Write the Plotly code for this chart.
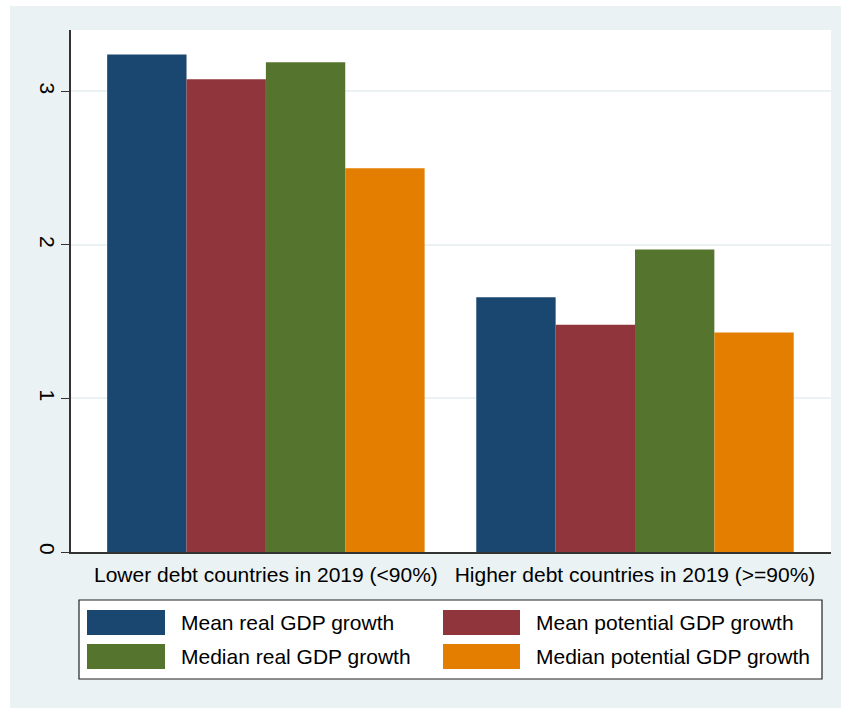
import plotly.graph_objects as go

categories = ["Lower debt countries in 2019 (<90%)", "Higher debt countries in 2019 (>=90%)"]
series_names = ["Mean real GDP growth", "Mean potential GDP growth",
                "Median real GDP growth", "Median potential GDP growth"]
mean_real = [3.24, 1.66]
mean_potential = [3.08, 1.48]
median_real = [3.19, 1.97]
median_potential = [2.50, 1.43]
y_ticks = [0, 1, 2, 3]

colors = ["#1A476F", "#90353B", "#55752F", "#E37E00"]
series_values = [mean_real, mean_potential, median_real, median_potential]

W, H = 841, 708
L, R, T, B = 71, 10, 30, 156
PW, PH = W - L - R, H - T - B
FONT = "Liberation Sans, Arial, sans-serif"

def px(x):
    return (x - L) / PW

def py(y):
    return (H - B - y) / PH

fig = go.Figure()
for name, vals, col in zip(series_names, series_values, colors):
    fig.add_trace(go.Bar(x=[0, 1], y=vals, name=name, marker=dict(color=col, line=dict(width=0)),
                         showlegend=False))

shapes = []
annotations = []
# white outer strips (left and top)
shapes.append(dict(type="rect", xref="paper", yref="paper", x0=px(-5), x1=px(10), y0=py(720), y1=py(-5),
                   fillcolor="white", line=dict(width=0), layer="above"))
shapes.append(dict(type="rect", xref="paper", yref="paper", x0=px(-5), x1=px(850), y0=py(6), y1=py(-5),
                   fillcolor="white", line=dict(width=0), layer="above"))
# legend box
shapes.append(dict(type="rect", xref="paper", yref="paper", x0=px(79), x1=px(822), y0=py(679), y1=py(600),
                   fillcolor="white", line=dict(color="#222222", width=1.2), layer="above"))
sw = [(87, 165, 610, 635, 179), (443, 520, 610, 635, 534), (87, 165, 644, 669, 179), (443, 520, 644, 669, 534)]
for (x0, x1, y0, y1, tx), name, col in zip(sw, series_names, colors):
    shapes.append(dict(type="rect", xref="paper", yref="paper", x0=px(x0), x1=px(x1), y0=py(y1), y1=py(y0),
                       fillcolor=col, line=dict(width=0), layer="above"))
    annotations.append(dict(text=name, xref="paper", yref="paper", x=px(tx), y=py((y0 + y1) / 2),
                            xanchor="left", yanchor="middle", showarrow=False,
                            font=dict(family=FONT, size=21, color="black")))

fig.update_layout(
    width=W, height=H,
    margin=dict(l=L, r=R, t=T, b=B),
    paper_bgcolor="#EAF2F3",
    plot_bgcolor="white",
    barmode="group",
    bargap=0.14,
    bargroupgap=0,
    font=dict(family=FONT, size=20, color="black"),
    shapes=shapes,
    annotations=annotations,
    xaxis=dict(range=[-0.528, 1.531], tickmode="array", tickvals=[0, 1], ticktext=categories,
               tickfont=dict(size=21), showgrid=False, showline=True, linecolor="#333333", linewidth=1.5,
               ticks="", zeroline=False, ticklabelstandoff=3),
    yaxis=dict(range=[0, 3.40], tickmode="array", tickvals=y_ticks, ticktext=[str(v) for v in y_ticks],
               tickangle=90, tickfont=dict(size=21), ticks="outside", ticklen=8, tickcolor="#333333",
               tickwidth=1.2, showline=True, linecolor="#333333", linewidth=1.5, ticklabelstandoff=-4,
               showgrid=True, gridcolor="#EAF2F3", gridwidth=1.5, zeroline=False),
)

fig.write_html("out.html", config={"displayModeBar": False},
               post_script="document.body.style.margin='0';")
